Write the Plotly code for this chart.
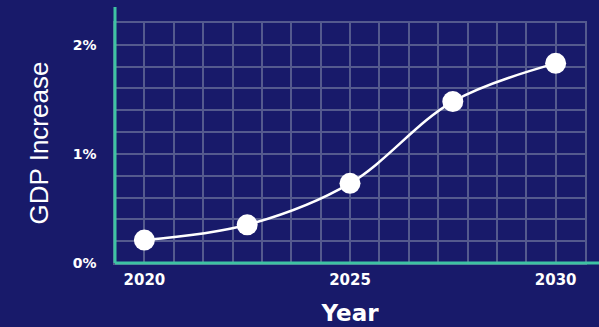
import plotly.graph_objects as go

years = [2020, 2022.5, 2025, 2027.5, 2030]
gdp_increase = [0.21, 0.35, 0.73, 1.48, 1.83]
x_tick_vals = [2020, 2025, 2030]
x_tick_text = ["2020", "2025", "2030"]
y_tick_vals = [0, 1, 2]
y_tick_text = ["0%", "1%", "2%"]

BG = "#181a6a"
GRID = "#545a8e"
TEAL = "#3ec3a3"
FONT = "Liberation Sans, Arial, sans-serif"
BOLD = "DejaVu Sans, sans-serif"

fig = go.Figure()
fig.add_trace(go.Scatter(
    x=years, y=gdp_increase, mode="lines+markers",
    line=dict(color="white", width=2.5, shape="spline", smoothing=1.0),
    marker=dict(color="white", size=21),
    hoverinfo="skip", cliponaxis=False,
))

step = 5 / 7
fig.update_layout(
    width=599, height=327,
    margin=dict(l=115, r=14, t=23, b=64, autoexpand=False),
    paper_bgcolor=BG, plot_bgcolor=BG,
    showlegend=False,
    font=dict(family=FONT, color="white"),
    xaxis=dict(
        range=[2020 - step, 2030 + step],
        tickvals=x_tick_vals, ticktext=x_tick_text,
        tickfont=dict(size=15, family=BOLD, weight="bold"),
        showgrid=True, gridcolor=GRID, gridwidth=1.5,
        minor=dict(dtick=step, tick0=2020, showgrid=True, gridcolor=GRID, gridwidth=1.5),
        showline=True, mirror=True, linecolor=GRID, linewidth=1.5,
        zeroline=False, ticks="", ticklabelstandoff=2, automargin=False,
        title=dict(text="<b>Year</b>", font=dict(size=23, family=BOLD), standoff=17),
        fixedrange=True,
    ),
    yaxis=dict(
        range=[0, 2.2],
        tickvals=y_tick_vals, ticktext=y_tick_text,
        tickfont=dict(size=14, family=BOLD, weight="bold"),
        showgrid=True, gridcolor=GRID, gridwidth=1.5,
        minor=dict(dtick=0.2, tick0=0, showgrid=True, gridcolor=GRID, gridwidth=1.5),
        showline=True, mirror=True, linecolor=GRID, linewidth=1.5,
        zeroline=False, ticks="", ticklabelstandoff=14, automargin=False,
        title=dict(text="GDP Increase", font=dict(size=26, family=FONT), standoff=17),
        fixedrange=True,
    ),
    shapes=[
        dict(type="line", xref="paper", yref="paper", x0=0, x1=0, y0=0, y1=1.067,
             line=dict(color=TEAL, width=3), layer="above"),
        dict(type="line", xref="paper", yref="paper", x0=0, x1=1.03, y0=0, y1=0,
             line=dict(color=TEAL, width=3), layer="above"),
    ],
)

fig.write_html("out.html")
